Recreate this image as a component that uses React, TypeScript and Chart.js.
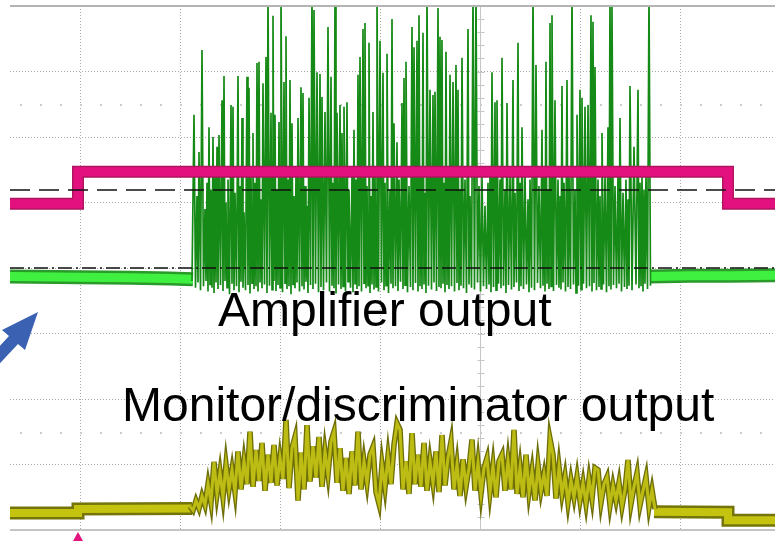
import React, { useEffect, useRef } from "react";
import { Chart, registerables } from "chart.js";

Chart.register(...registerables);

// ---- axes (oscilloscope divisions) ----
const X_MIN = -0.7;
const X_MAX = 6.95;
const Y_MIN = 0;
const Y_MAX = 8;
const centerTime = 4;
const minorRows = [1.5, 6.5];

// ---- gate (magenta) ----
const gateTimes = [-0.7, -0.02, -0.02, 6.48, 6.48, 6.95];
const gateLevels = [4.98, 4.98, 5.47, 5.47, 4.98, 4.98];

// ---- reference levels (black dashed) ----
const thresholdLevel = 5.19;
const ampZeroLevel = 4.0;

// ---- amplifier output (green) ----
const ampBaseLeftTimes = [-0.7, 0.0, 0.5, 0.9, 1.13];
const ampBaseLeftValues = [3.87, 3.86, 3.85, 3.84, 3.83];
const ampBaseRightTimes = [5.70, 6.1, 6.5, 6.95];
const ampBaseRightValues = [3.87, 3.88, 3.88, 3.89];
// [time, peak, trough]
const ampBurst = [
  [1.14,6.34,3.70],[1.17,5.10,3.78],[1.19,5.77,3.66],[1.22,7.33,3.72],[1.25,4.90,3.80],[1.27,5.30,3.64],[1.29,6.15,3.75],[1.31,5.20,3.70],[1.33,6.00,3.62],[1.35,5.40,3.78],
  [1.37,5.85,3.68],[1.39,6.03,3.74],[1.42,6.56,3.65],[1.44,6.93,3.80],[1.46,5.00,3.70],[1.48,5.35,3.60],[1.51,6.49,3.76],[1.53,6.46,3.66],[1.55,5.15,3.72],[1.58,6.93,3.63],
  [1.60,5.25,3.79],[1.62,6.29,3.70],[1.64,4.85,3.66],[1.67,6.92,3.74],[1.69,6.75,3.61],[1.71,5.40,3.77],[1.73,6.06,3.68],[1.75,5.30,3.72],[1.77,7.13,3.64],[1.79,7.15,3.78],
  [1.81,5.05,3.69],[1.83,6.82,3.75],[1.86,7.22,3.62],[1.88,8.20,3.73],[1.91,6.37,3.67],[1.93,7.85,3.80],[1.95,6.34,3.65],[1.97,5.20,3.74],[1.99,6.23,3.70],[2.01,8.20,3.63],
  [2.04,6.84,3.77],[2.06,7.54,3.68],[2.08,5.35,3.72],[2.10,6.87,3.60],[2.12,6.21,3.75],[2.14,5.10,3.69],[2.16,5.45,3.78],[2.18,6.29,3.64],[2.21,6.76,3.72],[2.23,6.67,3.67],
  [2.25,5.25,3.79],[2.27,4.95,3.62],[2.29,6.60,3.74],[2.32,8.20,3.68],[2.34,7.94,3.76],[2.37,6.99,3.63],[2.40,6.96,3.71],[2.42,6.61,3.66],[2.45,6.38,3.78],[2.48,7.68,3.64],
  [2.51,6.92,3.73],[2.53,5.30,3.69],[2.55,8.20,3.61],[2.57,6.37,3.75],[2.60,6.49,3.68],[2.62,6.06,3.72],[2.64,6.46,3.65],[2.67,6.53,3.79],[2.69,5.20,3.70],[2.72,5.40,3.63],
  [2.74,6.11,3.76],[2.76,5.35,3.68],[2.78,6.95,3.72],[2.80,7.22,3.64],[2.83,7.65,3.77],[2.85,7.74,3.69],[2.87,5.25,3.73],[2.89,7.44,3.62],[2.91,5.10,3.75],[2.93,6.38,3.67],
  [2.95,5.45,3.71],[2.97,8.20,3.64],[3.00,7.47,3.78],[3.03,6.98,3.66],[3.05,5.30,3.73],[3.07,7.27,3.62],[3.10,5.20,3.76],[3.12,7.80,3.69],[3.14,6.21,3.72],[3.17,5.92,3.65],
  [3.19,5.35,3.79],[3.22,6.52,3.68],[3.24,6.90,3.74],[3.26,7.15,3.63],[3.29,5.25,3.71],[3.32,7.68,3.66],[3.34,7.37,3.77],[3.37,7.47,3.64],[3.39,7.86,3.72],[3.41,5.40,3.68],
  [3.43,7.59,3.75],[3.45,5.15,3.62],[3.47,8.20,3.73],[3.50,6.72,3.67],[3.53,6.64,3.78],[3.55,6.69,3.65],[3.58,7.97,3.71],[3.60,7.53,3.69],[3.62,7.48,3.76],[3.64,5.30,3.63],
  [3.66,7.30,3.74],[3.68,5.45,3.68],[3.70,6.95,3.72],[3.73,6.84,3.64],[3.76,7.10,3.77],[3.78,6.72,3.66],[3.80,5.20,3.73],[3.82,7.21,3.69],[3.85,5.35,3.62],[3.88,7.65,3.75],
  [3.90,5.10,3.70],[3.93,8.20,3.67],[3.96,8.20,3.78],[3.99,5.25,3.64],[4.02,5.40,3.72],[4.05,4.95,3.68],[4.08,5.30,3.75],[4.10,5.45,3.63],[4.12,6.99,3.71],[4.15,6.53,3.66],
  [4.17,6.56,3.76],[4.20,5.35,3.69],[4.22,7.21,3.73],[4.25,5.20,3.62],[4.27,6.52,3.74],[4.30,5.40,3.67],[4.33,6.87,3.71],[4.35,5.15,3.78],[4.38,7.44,3.65],[4.40,5.30,3.72],
  [4.42,6.15,3.68],[4.45,5.45,3.75],[4.48,5.05,3.63],[4.50,5.35,3.70],[4.53,8.20,3.66],[4.56,7.10,3.77],[4.59,5.25,3.69],[4.62,6.11,3.73],[4.64,5.40,3.64],[4.66,7.15,3.76],
  [4.68,5.20,3.68],[4.70,7.74,3.72],[4.72,7.86,3.65],[4.75,6.56,3.74],[4.78,5.35,3.70],[4.80,5.10,3.67],[4.82,6.78,3.78],[4.84,5.30,3.64],[4.87,6.87,3.71],[4.89,5.45,3.68],
  [4.92,8.20,3.75],[4.95,5.20,3.62],[4.97,6.34,3.73],[5.00,6.72,3.67],[5.02,6.60,3.76],[5.05,6.46,3.69],[5.08,6.49,3.72],[5.11,7.86,3.64],[5.13,7.76,3.77],[5.15,7.07,3.66],
  [5.18,5.35,3.71],[5.20,5.10,3.68],[5.22,6.06,3.75],[5.25,5.40,3.63],[5.28,6.15,3.72],[5.30,8.20,3.67],[5.32,8.00,3.74],[5.35,5.25,3.69],[5.38,5.45,3.76],[5.40,6.29,3.64],
  [5.43,5.15,3.71],[5.46,5.35,3.68],[5.48,5.05,3.73],[5.50,6.78,3.66],[5.54,5.85,3.75],[5.58,6.72,3.69],[5.60,5.30,3.72],[5.62,5.40,3.64],[5.64,5.20,3.76],[5.66,5.45,3.68],
  [5.69,8.20,3.73],
];

// ---- monitor / discriminator output (yellow) ----
const monBaseLeftTimes = [-0.7, -0.02, -0.02, 1.12];
const monBaseLeftValues = [0.26, 0.26, 0.32, 0.33];
const monBaseRightTimes = [5.74, 6.48, 6.48, 6.95];
const monBaseRightValues = [0.28, 0.27, 0.15, 0.15];
const monBurstStart = 1.10;
const monBurstStep = 0.03;
const monBurst = [
  0.36,0.30,0.45,0.33,0.52,0.38,0.70,0.42,1.04,0.55,0.88,0.50,1.00,0.62,0.92,0.58,
  1.20,0.62,1.05,0.70,1.50,0.66,1.22,0.75,1.33,0.60,1.15,0.72,1.30,0.68,1.10,0.78,
  1.68,0.64,1.25,1.42,0.45,1.18,0.62,1.60,0.74,1.28,0.80,1.42,0.66,1.20,0.85,1.35,
  1.50,0.72,1.25,0.60,1.10,0.55,1.20,0.68,1.50,0.62,1.05,0.72,1.15,1.27,0.58,0.40,
  1.00,0.65,1.12,0.70,1.30,1.63,1.53,0.62,1.05,0.55,1.48,0.70,1.15,0.66,1.33,0.60,
  1.05,0.72,1.20,0.58,1.45,0.68,1.10,1.35,0.62,1.00,0.52,1.08,0.66,0.95,1.38,0.60,
  1.02,0.55,0.95,1.10,0.58,0.98,0.50,1.05,1.15,0.60,1.05,0.62,1.53,0.55,0.95,0.50,
  1.15,0.58,0.90,0.45,0.99,0.60,0.85,0.52,1.39,1.15,0.48,0.96,0.55,0.82,0.42,0.76,
  0.50,0.81,0.45,0.72,0.40,0.78,0.48,0.95,0.92,0.42,0.70,0.81,0.38,0.68,0.45,0.72,
  0.36,0.62,1.07,0.40,0.66,0.87,0.38,0.60,0.81,0.35,0.61,0.32,
];

const pts = (ts: number[], vs: number[]) => ts.map((t, i) => ({ x: t, y: vs[i] }));

function ampBurstPoints() {
  const out: { x: number; y: number }[] = [{ x: 1.12, y: 3.8 }];
  ampBurst.forEach(([t, peak, trough], i) => {
    const next = i < ampBurst.length - 1 ? ampBurst[i + 1][0] : t + 0.03;
    out.push({ x: t, y: peak }, { x: (t + next) / 2, y: trough });
  });
  return out;
}

function monBurstPoints() {
  return monBurst.map((v, i) => ({ x: +(monBurstStart + i * monBurstStep).toFixed(3), y: v }));
}

const scopeFrame = {
  id: "scopeFrame",
  beforeDatasetsDraw(chart: any) {
    const { ctx, chartArea, scales } = chart;
    const x = scales.x;
    const y = scales.y;
    ctx.save();
    const cx = Math.round(x.getPixelForValue(centerTime)) + 0.5;
    ctx.strokeStyle = "#c6c6c6";
    ctx.lineWidth = 1;
    ctx.beginPath();
    ctx.moveTo(cx, chartArea.top);
    ctx.lineTo(cx, chartArea.bottom);
    for (let k = 1; k < 40; k++) {
      const py = Math.round(y.getPixelForValue(k * 0.2)) + 0.5;
      ctx.moveTo(cx - 3, py);
      ctx.lineTo(cx + 4, py);
    }
    ctx.stroke();
    ctx.fillStyle = "#cccccc";
    minorRows.forEach((r) => {
      const py = Math.round(y.getPixelForValue(r));
      for (let k = -3; k <= 34; k++) {
        const px = Math.round(x.getPixelForValue(k * 0.2));
        if (px > chartArea.left && px < chartArea.right) ctx.fillRect(px, py, 2, 2);
      }
    });
    ctx.restore();
  },
  afterDatasetsDraw(chart: any) {
    const { ctx, chartArea, scales } = chart;
    const y = scales.y;
    ctx.save();
    ctx.strokeStyle = "#b4b4b4";
    ctx.lineWidth = 2;
    const top = y.getPixelForValue(Y_MAX);
    const bot = y.getPixelForValue(Y_MIN);
    ctx.beginPath();
    ctx.moveTo(chartArea.left, top);
    ctx.lineTo(chartArea.right, top);
    ctx.stroke();
    ctx.strokeStyle = "#c4c4c4";
    ctx.beginPath();
    ctx.moveTo(chartArea.left, bot);
    ctx.lineTo(chartArea.right, bot);
    ctx.stroke();
    ctx.restore();
  },
};

function ds(data: any[], color: string, width: number, order: number, dash?: number[]) {
  return {
    data,
    borderColor: color,
    borderWidth: width,
    borderDash: dash || [],
    pointRadius: 0,
    tension: 0,
    fill: false,
    order,
    borderCapStyle: "butt",
  };
}

export default function App() {
  const ref = useRef<HTMLCanvasElement | null>(null);
  useEffect(() => {
    if (!ref.current) return;
    const gate = pts(gateTimes, gateLevels);
    const chart = new Chart(ref.current, {
      type: "line",
      data: {
        datasets: [
          ds([{ x: X_MIN, y: thresholdLevel }, { x: X_MAX, y: thresholdLevel }], "#111111", 1.6, 0, [20, 9]),
          ds([{ x: X_MIN, y: ampZeroLevel }, { x: X_MAX, y: ampZeroLevel }], "#111111", 1.6, 0, [14, 4, 2, 4]),
          ds(gate, "#e3107f", 9, 1),
          ds(gate, "#b0155f", 12, 2),
          ds(ampBurstPoints(), "#168a16", 1.7, 3),
          ds(pts(ampBaseLeftTimes, ampBaseLeftValues), "#40f040", 9, 4),
          ds(pts(ampBaseRightTimes, ampBaseRightValues), "#40f040", 9, 4),
          ds(pts(ampBaseLeftTimes, ampBaseLeftValues), "#2a9a2a", 14, 5),
          ds(pts(ampBaseRightTimes, ampBaseRightValues), "#2a9a2a", 14, 5),
          ds(monBurstPoints(), "#bcbc14", 3, 6),
          ds(monBurstPoints(), "#6e6e08", 5.6, 7),
          ds(pts(monBaseLeftTimes, monBaseLeftValues), "#c4c410", 8, 8),
          ds(pts(monBaseRightTimes, monBaseRightValues), "#c4c410", 8, 8),
          ds(pts(monBaseLeftTimes, monBaseLeftValues), "#74740a", 13, 9),
          ds(pts(monBaseRightTimes, monBaseRightValues), "#74740a", 13, 9),
        ] as any,
      },
      options: {
        animation: false,
        responsive: false,
        maintainAspectRatio: false,
        devicePixelRatio: 1,
        events: [],
        layout: { padding: { left: 10, top: 6, right: 0, bottom: 11 } },
        plugins: { legend: { display: false }, tooltip: { enabled: false }, title: { display: false } },
        scales: {
          x: {
            type: "linear",
            min: X_MIN,
            max: X_MAX,
            ticks: { display: false, stepSize: 1, includeBounds: false },
            grid: { color: "#a8a8a8", lineWidth: 1, drawTicks: false },
            border: { display: false, dash: [1, 2] },
          },
          y: {
            type: "linear",
            min: Y_MIN,
            max: Y_MAX,
            ticks: { display: false, stepSize: 1, includeBounds: false },
            grid: { color: "#a8a8a8", lineWidth: 1, drawTicks: false },
            border: { display: false, dash: [1, 2] },
          },
        },
      } as any,
      plugins: [scopeFrame],
    });
    return () => chart.destroy();
  }, []);

  const label: React.CSSProperties = {
    position: "absolute",
    fontFamily: '"Liberation Sans", Arial, sans-serif',
    fontSize: 48,
    lineHeight: "48px",
    color: "#000",
    whiteSpace: "nowrap",
  };

  return (
    <div style={{ position: "absolute", left: 0, top: 0, width: 775, height: 541, overflow: "hidden", background: "#fff" }}>
      <canvas ref={ref} width={775} height={541} style={{ display: "block", width: 775, height: 541 }} />
      <div style={{ ...label, left: 218, top: 286 }}>Amplifier output</div>
      <div style={{ ...label, left: 122, top: 381 }}>Monitor/discriminator output</div>
      <svg width={775} height={541} style={{ position: "absolute", left: 0, top: 0, pointerEvents: "none" }}>
        <polygon points="38,312 2,330 9,336 -18,365 -9,373 18,344 25,350" fill="#3b62b2" />
        <polygon points="73,541 83,541 78,532" fill="#e2147d" />
      </svg>
    </div>
  );
}
